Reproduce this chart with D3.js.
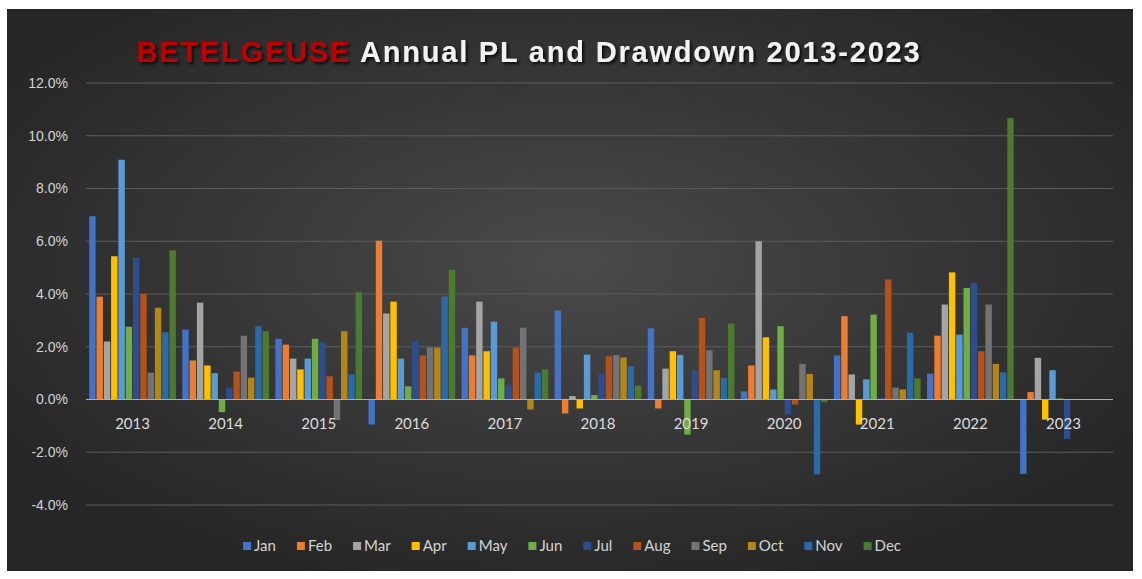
<!DOCTYPE html>
<html>
<head>
<meta charset="utf-8">
<script src="https://cdn.jsdelivr.net/npm/d3@7"></script>
<style>
  body { margin: 0; background: #fff; }
  svg { display: block; }
</style>
</head>
<body>
<svg id="chart"></svg>
<script>
// data: monthly PL in percent, one array per year (null = no data yet)
const years = ["2013","2014","2015","2016","2017","2018","2019","2020","2021","2022","2023"];
const months = ["Jan","Feb","Mar","Apr","May","Jun","Jul","Aug","Sep","Oct","Nov","Dec"];
const yTicks = [-4, -2, 0, 2, 4, 6, 8, 10, 12];

const pl2013 = [6.95, 3.90, 2.20, 5.43, 9.09, 2.76, 5.38, 4.00, 1.02, 3.48, 2.55, 5.66];
const pl2014 = [2.65, 1.48, 3.67, 1.29, 1.00, -0.48, 0.45, 1.06, 2.42, 0.83, 2.78, 2.59];
const pl2015 = [2.30, 2.08, 1.55, 1.14, 1.55, 2.30, 2.17, 0.88, -0.78, 2.59, 0.95, 4.07];
const pl2016 = [-0.95, 6.02, 3.26, 3.71, 1.55, 0.50, 2.21, 1.67, 1.97, 1.97, 3.90, 4.92];
const pl2017 = [2.72, 1.67, 3.71, 1.83, 2.95, 0.80, 0.57, 1.97, 2.72, -0.38, 1.02, 1.14];
const pl2018 = [3.37, -0.53, 0.13, -0.34, 1.70, 0.17, 0.98, 1.64, 1.68, 1.59, 1.26, 0.53];
const pl2019 = [2.70, -0.34, 1.17, 1.83, 1.69, -1.33, 1.11, 3.09, 1.87, 1.11, 0.82, 2.88];
const pl2020 = [0.31, 1.29, 6.00, 2.36, 0.38, 2.78, -0.57, -0.19, 1.35, 0.97, -2.84, -0.10];
const pl2021 = [1.67, 3.16, 0.95, -0.95, 0.76, 3.22, 0.05, 4.55, 0.45, 0.38, 2.53, 0.80];
const pl2022 = [0.98, 2.42, 3.60, 4.82, 2.46, 4.23, 4.42, 1.83, 3.60, 1.35, 1.03, 10.67];
const pl2023 = [-2.82, 0.28, 1.58, -0.76, 1.11, 0.04, -1.50, null, null, null, null, null];

const plByYear = [pl2013, pl2014, pl2015, pl2016, pl2017, pl2018, pl2019, pl2020, pl2021, pl2022, pl2023];

const colors = ["#4472C4","#ED7D31","#A5A5A5","#FFC000","#5B9BD5","#70AD47",
                "#2E4D8E","#B5521A","#737373","#B3861A","#2A6AA8","#4B7A30"];

const width = 1142, height = 579;
const margin = {top: 83, right: 32, bottom: 74, left: 86};

const svg = d3.select("svg#chart")
  .attr("width", width)
  .attr("height", height)
  .style("font-family", "Lato, 'Open Sans', sans-serif");

const defs = svg.append("defs");
const bg = defs.append("radialGradient").attr("id", "bg")
  .attr("cx", "50%").attr("cy", "45%").attr("r", "60%");
bg.append("stop").attr("offset", "0%").attr("stop-color", "#4a4a4a");
bg.append("stop").attr("offset", "100%").attr("stop-color", "#262626");

const shadow = defs.append("filter").attr("id", "shadow")
  .attr("x", "-5%").attr("y", "-30%").attr("width", "110%").attr("height", "160%");
shadow.append("feDropShadow").attr("dx", 2).attr("dy", 2).attr("stdDeviation", 1.5)
  .attr("flood-color", "#000").attr("flood-opacity", 0.8);

// chart background
svg.append("rect")
  .attr("x", 7).attr("y", 9)
  .attr("width", 1126).attr("height", 562)
  .attr("fill", "url(#bg)");

const x = d3.scaleBand()
  .domain(years)
  .range([margin.left, width - margin.right])
  .paddingInner(0.05)
  .paddingOuter(0.025);

const xm = d3.scaleBand()
  .domain(months)
  .range([0, x.bandwidth()])
  .padding(0.12);

const y = d3.scaleLinear()
  .domain([-4, 12])
  .range([505, margin.top]);

// gridlines
svg.append("g")
  .selectAll("line")
  .data(yTicks.filter(d => d !== 0))
  .enter()
  .append("line")
    .attr("x1", margin.left).attr("x2", width - margin.right + 3)
    .attr("y1", d => y(d)).attr("y2", d => y(d))
    .attr("stroke", "#5c5c5c").attr("stroke-width", 1);

// y labels
const yAxis = d3.axisLeft(y)
  .tickValues(yTicks)
  .tickSize(0)
  .tickPadding(0)
  .tickFormat(d => d.toFixed(1) + "%");

const gY = svg.append("g")
  .attr("transform", `translate(68, 0)`)
  .call(yAxis);
gY.select(".domain").remove();
gY.selectAll("text")
  .attr("fill", "#d4d4d4")
  .style("font-size", "14px");

// bars
const groups = svg.append("g")
  .selectAll("g")
  .data(plByYear)
  .enter()
  .append("g")
    .attr("transform", (d, i) => `translate(${x(years[i])}, 0)`);

groups.selectAll("rect")
  .data(d => d.map((v, j) => ({month: months[j], value: v, idx: j})).filter(e => e.value !== null))
  .enter()
  .append("rect")
    .attr("x", d => xm(d.month))
    .attr("width", xm.bandwidth())
    .attr("y", d => y(Math.max(0, d.value)))
    .attr("height", d => Math.abs(y(d.value) - y(0)))
    .attr("fill", d => colors[d.idx]);

// zero line
svg.append("line")
  .attr("x1", margin.left).attr("x2", width - margin.right + 3)
  .attr("y1", y(0)).attr("y2", y(0))
  .attr("stroke", "#a9aeb3").attr("stroke-width", 1.2);

// year labels (next to axis)
svg.append("g")
  .selectAll("text")
  .data(years)
  .enter()
  .append("text")
    .attr("x", d => x(d) + x.bandwidth() / 2)
    .attr("y", y(0) + 29)
    .attr("text-anchor", "middle")
    .attr("fill", "#dcdcdc")
    .style("font-size", "15px")
    .text(d => d);

// title
const title = svg.append("text")
  .attr("x", 529)
  .attr("y", 62)
  .attr("text-anchor", "middle")
  .style("font-family", "'Liberation Sans', Arial, sans-serif")
  .style("font-weight", "bold")
  .style("font-size", "29px")
  .style("letter-spacing", "1.8px")
  .attr("filter", "url(#shadow)");
title.append("tspan").attr("fill", "#c00000").text("BETELGEUSE");
title.append("tspan").attr("fill", "#f2f2f2").text(" Annual PL and Drawdown 2013-2023");

// legend
const legend = svg.append("g").attr("transform", "translate(0, 546)");
const items = legend.selectAll("g")
  .data(months)
  .enter()
  .append("g");
items.append("rect")
  .attr("y", -4).attr("width", 8).attr("height", 8)
  .attr("fill", (d, i) => colors[i]);
items.append("text")
  .attr("x", 11).attr("y", 0)
  .attr("dy", "0.35em")
  .attr("fill", "#d4d4d4")
  .style("font-size", "15px")
  .text(d => d);

let cursor = 0;
const pos = [];
items.each(function() {
  const w = this.querySelector("text").getComputedTextLength();
  pos.push(cursor);
  cursor += 11 + w + 21;
});
const start = 572 - (cursor - 21) / 2;
items.attr("transform", (d, i) => `translate(${start + pos[i]}, 0)`);
</script>
</body>
</html>
